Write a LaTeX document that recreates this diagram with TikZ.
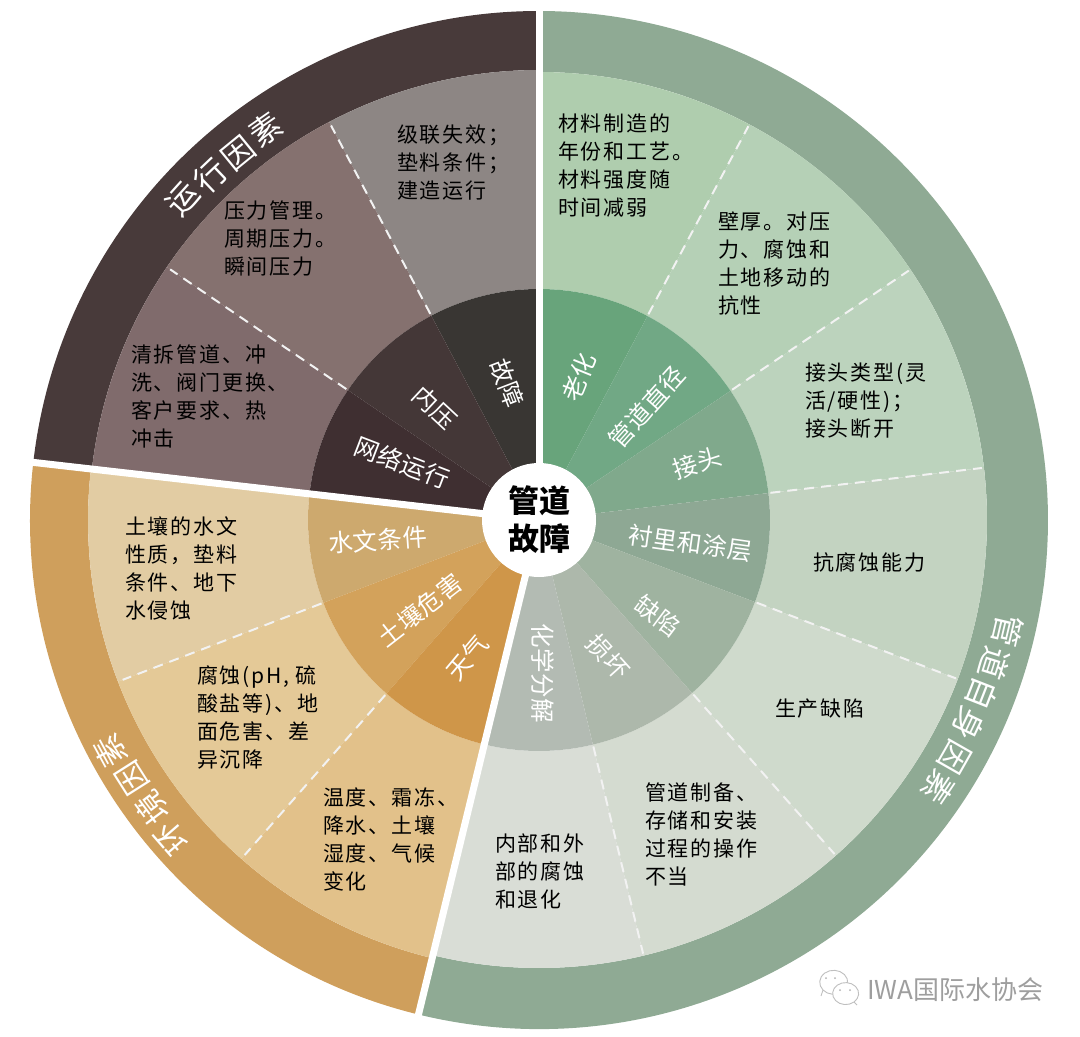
\documentclass[tikz,border=0pt]{standalone}
\usepackage{fontspec}
\setmainfont{Noto Sans CJK SC}
\usetikzlibrary{calc}
\newcommand{\ringsector}[5]{% colour, start, end, inner, outer
  \fill[#1] (#2:#4 pt) -- (#2:#5 pt) arc[start angle=#2,end angle=#3,radius=#5 pt] -- (#3:#4 pt) arc[start angle=#3,end angle=#2,radius=#4 pt] -- cycle;}
\tikzset{
  bodytext/.style={anchor=west,align=left,text=black,inner sep=0pt,font=\fontsize{21}{28}\selectfont\addfontfeature{LetterSpace=8.5}},
  innerlabel/.style={text=white,inner sep=0pt,font=\fontsize{24.5}{26}\selectfont\addfontfeature{LetterSpace=2}},
  ringlabel/.style={text=white,inner sep=0pt,font=\fontsize{32}{34}\selectfont},
  spoke/.style={draw=white!90!gray,line width=2pt,dash pattern=on 10pt off 7pt},
  gapline/.style={draw=white,line width=7pt},
  chatbubble/.style={draw=black!25,fill=white,line width=0.9pt}
}
\definecolor{gOuter}{HTML}{8FAA94}\definecolor{dOuter}{HTML}{483A3A}\definecolor{oOuter}{HTML}{CF9F5C}
\definecolor{gA}{HTML}{AFCDAE}\definecolor{gB}{HTML}{B5D0B6}\definecolor{gC}{HTML}{BCD3BD}\definecolor{gD}{HTML}{C3D3C1}\definecolor{gE}{HTML}{CFDACC}\definecolor{gF}{HTML}{D4DBD0}\definecolor{gG}{HTML}{D9DDD6}
\definecolor{hA}{HTML}{68A47B}\definecolor{hB}{HTML}{71A885}\definecolor{hC}{HTML}{80A98C}\definecolor{hD}{HTML}{8EA894}\definecolor{hE}{HTML}{9FB3A0}\definecolor{hF}{HTML}{ADB8AB}\definecolor{hG}{HTML}{B3BBB3}
\definecolor{dA}{HTML}{8D8684}\definecolor{dB}{HTML}{85716F}\definecolor{dC}{HTML}{806B6C}
\definecolor{eA}{HTML}{393633}\definecolor{eB}{HTML}{443737}\definecolor{eC}{HTML}{3F2F31}
\definecolor{oA}{HTML}{E2CCA3}\definecolor{oB}{HTML}{E4C997}\definecolor{oC}{HTML}{E2C18A}
\definecolor{pA}{HTML}{CDA96E}\definecolor{pB}{HTML}{D3A25B}\definecolor{pC}{HTML}{CF9649}
\begin{document}
\begin{tikzpicture}[x=1pt,y=-1pt]
\useasboundingbox (0,0) rectangle (1080,1037);
\begin{scope}[shift={(539,520)}]
  % outer ring
  \ringsector{gOuter}{-103.7}{90}{448}{509}
  \ringsector{dOuter}{90}{173.5}{450}{509}
  \ringsector{oOuter}{173.5}{256.3}{451}{509}
  % middle ring
  \ringsector{gA}{62}{90}{231}{448}
  \ringsector{gB}{34}{62}{231}{448}
  \ringsector{gC}{6.7}{34}{231}{448}
  \ringsector{gD}{-20.8}{6.7}{231}{448}
  \ringsector{gE}{-48.5}{-20.8}{231}{448}
  \ringsector{gF}{-76.5}{-48.5}{231}{448}
  \ringsector{gG}{-103.7}{-76.5}{231}{448}
  \ringsector{dA}{90}{117.8}{231}{450}
  \ringsector{dB}{117.8}{145.8}{231}{450}
  \ringsector{dC}{145.8}{173.5}{231}{450}
  \ringsector{oA}{173.5}{201}{231}{451}
  \ringsector{oB}{201}{228.7}{231}{451}
  \ringsector{oC}{228.7}{256.3}{231}{451}
  % inner ring
  \ringsector{hA}{62}{90}{40}{231}
  \ringsector{hB}{34}{62}{40}{231}
  \ringsector{hC}{6.7}{34}{40}{231}
  \ringsector{hD}{-20.8}{6.7}{40}{231}
  \ringsector{hE}{-48.5}{-20.8}{40}{231}
  \ringsector{hF}{-76.5}{-48.5}{40}{231}
  \ringsector{hG}{-103.7}{-76.5}{40}{231}
  \ringsector{eA}{90}{117.8}{40}{231}
  \ringsector{eB}{117.8}{145.8}{40}{231}
  \ringsector{eC}{145.8}{173.5}{40}{231}
  \ringsector{pA}{173.5}{201}{40}{231}
  \ringsector{pB}{201}{228.7}{40}{231}
  \ringsector{pC}{228.7}{256.3}{40}{231}
  % dashed spokes
  \foreach \a in {62,34,6.7,-20.8,-48.5,-76.5,117.8,145.8,201,228.7}
    \draw[spoke] (\a:233pt) -- (\a:446pt);
  % white gaps
  \draw[gapline] (0,0) -- (90:516pt);
  \draw[gapline] (0,0) -- (173.5:516pt);
  \draw[gapline] (0,0) -- (-103.7:516pt);
  % hub
  \node[circle,fill=white,minimum size=114pt,inner sep=0pt,align=center,font=\fontsize{31}{38}\bfseries\selectfont] (hub) at (0,0) {管道\\故障};
  % ring labels
  \foreach \ch/\a/\r/\i in {运/138/479/a,行/133.6/476/b,因/129.3/474/c,素/125/477/d}
    \node[ringlabel,rotate=\a-90] (run\i) at (\a:\r pt) {\ch};
  \foreach \ch/\a/\r/\i in {管/-13.3/482/a,道/-17.5/478/b,自/-21.4/476/c,身/-25.4/476/d,因/-29.7/479/e,素/-33.8/481/f}
    \node[ringlabel,rotate=\a-90] (self\i) at (\a:\r pt) {\ch};
  \foreach \ch/\a/\r/\i in {环/220.9/486/a,境/216.7/482/b,因/212.4/482/c,素/208.4/487/d}
    \node[ringlabel,rotate=\a-90] (env\i) at (\a:\r pt) {\ch};
\end{scope}
% inner labels
\node[innerlabel,rotate=68] (n1) at (579,377) {老化};
\node[innerlabel,rotate=48] (n2) at (647,407) {管道直径};
\node[innerlabel,rotate=18] (n3) at (697,463) {接头};
\node[innerlabel,rotate=-8] (n4) at (690,543) {衬里和涂层};
\node[innerlabel,rotate=-37] (n5) at (658,616) {缺陷};
\node[innerlabel,rotate=-48] (n6) at (608,657) {损坏};
\node[innerlabel,rotate=-90] (n7) at (543,673) {化学分解};
\node[innerlabel,rotate=-69] (n8) at (507,383) {故障};
\node[innerlabel,rotate=-43] (n9) at (435,408) {内压};
\node[innerlabel,rotate=-21] (n10) at (402,463) {网络运行};
\node[innerlabel,rotate=4] (n11) at (378,540) {水文条件};
\node[innerlabel,rotate=38] (n12) at (420,610) {土壤危害};
\node[innerlabel,rotate=50] (n13) at (467,658) {天气};
% body texts
\node[bodytext] (t1) at (397,163) {级联失效；\\垫料条件；\\建造运行};
\node[bodytext] (t2) at (558,166) {材料制造的\\年份和工艺。\\材料强度随\\时间减弱};
\node[bodytext] (t3) at (718,264) {壁厚。对压\\力、腐蚀和\\土地移动的\\抗性};
\node[bodytext] (t4) at (805,401) {接头类型(灵\\活/硬性)；\\接头断开};
\node[bodytext] (t5) at (813,562) {抗腐蚀能力};
\node[bodytext] (t6) at (775,709) {生产缺陷};
\node[bodytext] (t7) at (645,834) {管道制备、\\存储和安装\\过程的操作\\不当};
\node[bodytext] (t8) at (495,871) {内部和外\\部的腐蚀\\和退化};
\node[bodytext] (t9) at (323,839) {温度、霜冻、\\降水、土壤\\湿度、气候\\变化};
\node[bodytext] (t10) at (197,717) {腐蚀(pH, 硫\\酸盐等)、地\\面危害、差\\异沉降};
\node[bodytext] (t11) at (125,568) {土壤的水文\\性质，垫料\\条件、地下\\水侵蚀};
\node[bodytext] (t12) at (224,239) {压力管理。\\周期压力。\\瞬间压力};
\node[bodytext] (t13) at (131,396) {清拆管道、冲\\洗、阀门更换、\\客户要求、热\\冲击};
% watermark
\draw[chatbubble] (821,996) -- (823,990) arc[start angle=220,end angle=-140,x radius=14pt,y radius=12pt] -- cycle;
\draw[chatbubble] (857,1005) -- (854,1002) arc[start angle=-50,end angle=310,x radius=13pt,y radius=11pt] -- cycle;
\foreach \p/\i in {{(826,978)}/a,{(835,978)}/b,{(840,990)}/c,{(850,990)}/d}
  \fill[black!30] \p circle (1pt);
\node[anchor=west,text=black!38,inner sep=0pt,font=\fontsize{26}{28}\selectfont] (wm) at (867,990) {IWA国际水协会};
\end{tikzpicture}
\end{document}
